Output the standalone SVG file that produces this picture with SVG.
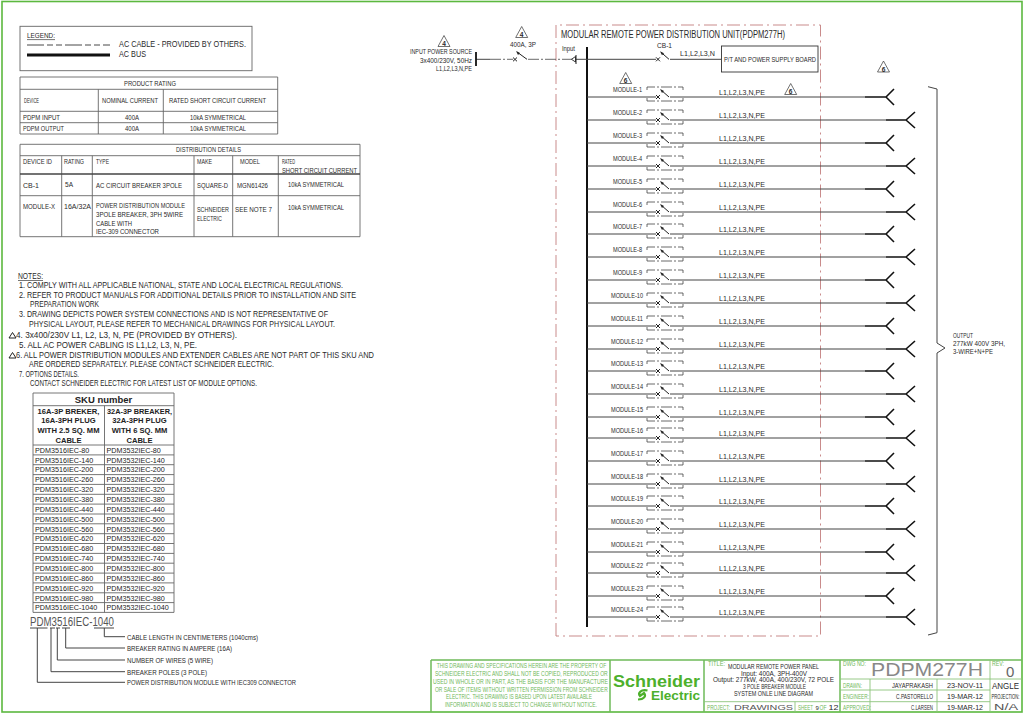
<svg xmlns="http://www.w3.org/2000/svg" width="1024" height="715" viewBox="0 0 1024 715">
<style>
text{font-family:"Liberation Sans",Arial,sans-serif;fill:#2a2a2a;font-size:7.5px}
.n{font-size:8.2px}
.m{font-size:6.6px}
.s{font-size:6.6px}
.g{fill:#6fb85a;font-size:6.6px}
.sk{font-size:7.2px;fill:#222}
.b{font-weight:bold;font-size:7.6px;fill:#222}
.ln{fill:none;stroke:#555;stroke-width:.9}
.t{fill:none;stroke:#666;stroke-width:.9}
.gl{fill:none;stroke:#8cc47c;stroke-width:.9}
.gh{fill:none;stroke:#6fbb5a;stroke-width:1.5}
.w{fill:none;stroke:#444;stroke-width:1}
.k{fill:none;stroke:#111;stroke-width:1.6}
.f{fill:none;stroke:#222;stroke-width:1}
.d{fill:none;stroke:#444;stroke-width:.8;stroke-dasharray:11 2 2 2}
.tri{fill:#fff;stroke:#333;stroke-width:.7}
</style>
<defs>
<g id="brk">
<path class="d" d="M647-7V-10H683V-7M647 1V4H683V1"/>
<path class="f" d="M656-2 660 2M660-2 656 2M661-7 669 0"/>
<path d="M660-8 664-6 662-4Z" fill="#222"/>
</g>
<path id="fo" class="k" d="M865 0H886M886 0 894-8M886 0 894 8"/>
<path id="fe" class="k" d="M886 0H906M906 0 915-8M906 0 915 8"/>
<path id="ntri" class="tri" d="M0-6 6 5H-6Z"/>
<path id="ltri" class="f" d="M0-3 3.5 2.5H-3.5Z"/>
</defs>

<rect id="frame" x="2" y="1.5" width="1020" height="710.5" fill="none" stroke="#5cb83f" stroke-width="1.6"/>

<g id="legend">
<rect class="t" x="20" y="26.3" width="232" height="44.4"/>
<text x="27" y="38" textLength="28" lengthAdjust="spacingAndGlyphs">LEGEND:</text>
<path class="t" d="M27 39.6H55"/>
<path d="M27 45H110" fill="none" stroke="#333" stroke-width=".9" stroke-dasharray="17 3 6 3 6 3"/>
<path d="M27 55H110" fill="none" stroke="#111" stroke-width="2.8"/>
<text class="n" x="119" y="47" textLength="127" lengthAdjust="spacingAndGlyphs">AC CABLE - PROVIDED BY OTHERS.</text>
<text class="n" x="119" y="56.5" textLength="27" lengthAdjust="spacingAndGlyphs">AC BUS</text>
</g>

<g id="product-rating">
<path class="t" d="M20 77H277.7V134H20ZM20 89.3H277.7M20 111.3H277.7M20 122.7H277.7M98.3 89.3V134M163.3 89.3V134"/>
<text class="s" x="124" y="85.5" textLength="52" lengthAdjust="spacingAndGlyphs">PRODUCT RATING</text>
<text class="s" x="24" y="102.5" textLength="15" lengthAdjust="spacingAndGlyphs">DEVICE</text>
<text class="s" x="102" y="102.5" textLength="56" lengthAdjust="spacingAndGlyphs">NOMINAL CURRENT</text>
<text class="s" x="169" y="102.5" textLength="97" lengthAdjust="spacingAndGlyphs">RATED SHORT CIRCUIT CURRENT</text>
<text class="s" x="23" y="119.5" textLength="37" lengthAdjust="spacingAndGlyphs">PDPM INPUT</text>
<text class="s" x="125" y="119.5" textLength="14" lengthAdjust="spacingAndGlyphs">400A</text>
<text class="s" x="190" y="119.5" textLength="56" lengthAdjust="spacingAndGlyphs">10kA SYMMETRICAL</text>
<text class="s" x="23" y="131" textLength="41" lengthAdjust="spacingAndGlyphs">PDPM OUTPUT</text>
<text class="s" x="125" y="130.5" textLength="14" lengthAdjust="spacingAndGlyphs">400A</text>
<text class="s" x="190" y="130.5" textLength="56" lengthAdjust="spacingAndGlyphs">10kA SYMMETRICAL</text>
</g>

<g id="distribution-details">
<path class="t" d="M20 144.3H360V236.7H20ZM20 155.7H360M20 195.7H360M61.7 155.7V236.7M92.3 155.7V236.7M194 155.7V236.7M232.7 155.7V236.7M278.3 155.7V236.7"/>
<path d="M20 174H360" fill="none" stroke="#444" stroke-width="1.5"/>
<text class="s" x="176" y="152" textLength="65" lengthAdjust="spacingAndGlyphs">DISTRIBUTION DETAILS</text>
<text class="s" x="23" y="163.5" textLength="29" lengthAdjust="spacingAndGlyphs">DEVICE ID</text>
<text class="s" x="64" y="163.5" textLength="20" lengthAdjust="spacingAndGlyphs">RATING</text>
<text class="s" x="96" y="163.5" textLength="13" lengthAdjust="spacingAndGlyphs">TYPE</text>
<text class="s" x="197" y="163.5" textLength="15" lengthAdjust="spacingAndGlyphs">MAKE</text>
<text class="s" x="240" y="163.5" textLength="20" lengthAdjust="spacingAndGlyphs">MODEL</text>
<text class="s" x="282" y="163.5" textLength="13" lengthAdjust="spacingAndGlyphs">RATED</text>
<text class="s" x="282" y="172.5" textLength="75" lengthAdjust="spacingAndGlyphs">SHORT CIRCUIT CURRENT</text>
<text class="s" x="23" y="187.5" textLength="16" lengthAdjust="spacingAndGlyphs">CB-1</text>
<text class="s" x="65" y="187" textLength="8" lengthAdjust="spacingAndGlyphs">5A</text>
<text class="s" x="96" y="187.5" textLength="86" lengthAdjust="spacingAndGlyphs">AC CIRCUIT BREAKER 3POLE</text>
<text class="s" x="197" y="187.5" textLength="31" lengthAdjust="spacingAndGlyphs">SQUARE-D</text>
<text class="s" x="237" y="187.5" textLength="31" lengthAdjust="spacingAndGlyphs">MGN61426</text>
<text class="s" x="288" y="187" textLength="56" lengthAdjust="spacingAndGlyphs">10kA SYMMETRICAL</text>
<text class="s" x="23" y="208.5" textLength="32" lengthAdjust="spacingAndGlyphs">MODULE-X</text>
<text class="s" x="64" y="208.5" textLength="27" lengthAdjust="spacingAndGlyphs">16A/32A</text>
<text class="s" x="96" y="207.5" textLength="89" lengthAdjust="spacingAndGlyphs">POWER DISTRIBUTION MODULE</text>
<text class="s" x="96" y="217" textLength="87" lengthAdjust="spacingAndGlyphs">3POLE BREAKER, 3PH 5WIRE</text>
<text class="s" x="96" y="226" textLength="36" lengthAdjust="spacingAndGlyphs">CABLE WITH</text>
<text class="s" x="96" y="233.5" textLength="63" lengthAdjust="spacingAndGlyphs">IEC-309 CONNECTOR</text>
<text class="s" x="197" y="211.5" textLength="32" lengthAdjust="spacingAndGlyphs">SCHNEIDER</text>
<text class="s" x="197" y="220.5" textLength="25" lengthAdjust="spacingAndGlyphs">ELECTRIC</text>
<text class="s" x="235" y="211.5" textLength="37" lengthAdjust="spacingAndGlyphs">SEE NOTE 7</text>
<text class="s" x="288" y="209.5" textLength="56" lengthAdjust="spacingAndGlyphs">10kA SYMMETRICAL</text>
</g>

<g id="notes">
<text class="n" x="18" y="279" textLength="25" lengthAdjust="spacingAndGlyphs">NOTES:</text>
<path class="t" d="M18 280.5H43"/>
<text class="n" x="19" y="288" textLength="324" lengthAdjust="spacingAndGlyphs">1. COMPLY WITH ALL APPLICABLE NATIONAL, STATE AND LOCAL ELECTRICAL REGULATIONS.</text>
<text class="n" x="19" y="298" textLength="337" lengthAdjust="spacingAndGlyphs">2. REFER TO PRODUCT MANUALS FOR ADDITIONAL DETAILS PRIOR TO INSTALLATION AND SITE</text>
<text class="n" x="30" y="307" textLength="69" lengthAdjust="spacingAndGlyphs">PREPARATION WORK</text>
<text class="n" x="19" y="317" textLength="309" lengthAdjust="spacingAndGlyphs">3. DRAWING DEPICTS POWER SYSTEM CONNECTIONS AND IS NOT REPRESENTATIVE OF</text>
<text class="n" x="29" y="327" textLength="306" lengthAdjust="spacingAndGlyphs">PHYSICAL LAYOUT, PLEASE REFER TO MECHANICAL DRAWINGS FOR PHYSICAL LAYOUT.</text>
<use href="#ltri" x="12.5" y="335.5"/>
<text class="n" x="16" y="338" textLength="221" lengthAdjust="spacingAndGlyphs">4. 3x400/230V L1, L2, L3, N, PE (PROVIDED BY OTHERS).</text>
<text class="n" x="19" y="347.5" textLength="178" lengthAdjust="spacingAndGlyphs">5. ALL AC POWER CABLING IS L1,L2, L3, N, PE.</text>
<use href="#ltri" x="12.5" y="355.5"/>
<text class="n" x="16" y="357.5" textLength="358" lengthAdjust="spacingAndGlyphs">6. ALL POWER DISTRIBUTION MODULES AND EXTENDER CABLES ARE NOT PART OF THIS SKU AND</text>
<text class="n" x="29" y="367" textLength="245" lengthAdjust="spacingAndGlyphs">ARE ORDERED SEPARATELY. PLEASE CONTACT SCHNEIDER ELECTRIC.</text>
<text class="n" x="19" y="376.5" textLength="60" lengthAdjust="spacingAndGlyphs">7. OPTIONS DETAILS.</text>
<text class="n" x="30" y="386" textLength="227" lengthAdjust="spacingAndGlyphs">CONTACT SCHNEIDER ELECTRIC FOR LATEST LIST OF MODULE OPTIONS.</text>
</g>

<g id="sku-table">
<path class="t" d="M33 393H174V612.4H33ZM33 405.7H174M33 445H174M33 454.9H174M33 464.7H174M33 474.6H174M33 484.4H174M33 494.3H174M33 504.1H174M33 514H174M33 523.8H174M33 533.7H174M33 543.5H174M33 553.4H174M33 563.2H174M33 573.1H174M33 582.9H174M33 592.8H174M33 602.6H174M104.5 405.7V612.4"/>
<text x="103.5" y="403" text-anchor="middle" style="font-weight:bold;font-size:9.5px;fill:#222">SKU number</text>
<text class="b" x="68.5" y="413.5" text-anchor="middle">16A-3P BREKER,</text>
<text class="b" x="68.5" y="423" text-anchor="middle">16A-3PH PLUG</text>
<text class="b" x="68.5" y="433" text-anchor="middle">WITH 2.5 SQ. MM</text>
<text class="b" x="68.5" y="443" text-anchor="middle">CABLE</text>
<text class="b" x="139.5" y="413.5" text-anchor="middle" textLength="65" lengthAdjust="spacingAndGlyphs">32A-3P BREAKER,</text>
<text class="b" x="139.5" y="423" text-anchor="middle">32A-3PH PLUG</text>
<text class="b" x="139.5" y="433" text-anchor="middle">WITH 6 SQ. MM</text>
<text class="b" x="139.5" y="443" text-anchor="middle">CABLE</text>
<text class="sk" x="35" y="452.7">PDM3516IEC-80</text><text class="sk" x="106.5" y="452.7">PDM3532IEC-80</text>
<text class="sk" x="35" y="462.6">PDM3516IEC-140</text><text class="sk" x="106.5" y="462.6">PDM3532IEC-140</text>
<text class="sk" x="35" y="472.4">PDM3516IEC-200</text><text class="sk" x="106.5" y="472.4">PDM3532IEC-200</text>
<text class="sk" x="35" y="482.3">PDM3516IEC-260</text><text class="sk" x="106.5" y="482.3">PDM3532IEC-260</text>
<text class="sk" x="35" y="492.1">PDM3516IEC-320</text><text class="sk" x="106.5" y="492.1">PDM3532IEC-320</text>
<text class="sk" x="35" y="502">PDM3516IEC-380</text><text class="sk" x="106.5" y="502">PDM3532IEC-380</text>
<text class="sk" x="35" y="511.8">PDM3516IEC-440</text><text class="sk" x="106.5" y="511.8">PDM3532IEC-440</text>
<text class="sk" x="35" y="521.7">PDM3516IEC-500</text><text class="sk" x="106.5" y="521.7">PDM3532IEC-500</text>
<text class="sk" x="35" y="531.5">PDM3516IEC-560</text><text class="sk" x="106.5" y="531.5">PDM3532IEC-560</text>
<text class="sk" x="35" y="541.4">PDM3516IEC-620</text><text class="sk" x="106.5" y="541.4">PDM3532IEC-620</text>
<text class="sk" x="35" y="551.2">PDM3516IEC-680</text><text class="sk" x="106.5" y="551.2">PDM3532IEC-680</text>
<text class="sk" x="35" y="561.1">PDM3516IEC-740</text><text class="sk" x="106.5" y="561.1">PDM3532IEC-740</text>
<text class="sk" x="35" y="570.9">PDM3516IEC-800</text><text class="sk" x="106.5" y="570.9">PDM3532IEC-800</text>
<text class="sk" x="35" y="580.8">PDM3516IEC-860</text><text class="sk" x="106.5" y="580.8">PDM3532IEC-860</text>
<text class="sk" x="35" y="590.6">PDM3516IEC-920</text><text class="sk" x="106.5" y="590.6">PDM3532IEC-920</text>
<text class="sk" x="35" y="600.5">PDM3516IEC-980</text><text class="sk" x="106.5" y="600.5">PDM3532IEC-980</text>
<text class="sk" x="35" y="610.3">PDM3516IEC-1040</text><text class="sk" x="106.5" y="610.3">PDM3532IEC-1040</text>
</g>

<g id="sku-key">
<text x="30" y="625.5" textLength="84" lengthAdjust="spacingAndGlyphs" style="font-size:12.5px;fill:#555">PDM3516IEC-1040</text>
<path fill="none" stroke="#444" stroke-width="1" d="M30 628H47.5M50 628H55M56 628H60M62 628H70M94 628H114M104.3 628V636.7H125M65.7 628V648H125M57.3 628V660H125M51 628V671.7H125M37.3 628V682.3H125"/>
<text class="s" x="127" y="639.5" textLength="131" lengthAdjust="spacingAndGlyphs">CABLE LENGTH IN CENTIMETERS (1040cms)</text>
<text class="s" x="127" y="651" textLength="105" lengthAdjust="spacingAndGlyphs">BREAKER RATING IN AMPERE (16A)</text>
<text class="s" x="127" y="663" textLength="86" lengthAdjust="spacingAndGlyphs">NUMBER OF WIRES (5 WIRE)</text>
<text class="s" x="127" y="674.5" textLength="80" lengthAdjust="spacingAndGlyphs">BREAKER POLES (3 POLE)</text>
<text class="s" x="127" y="685" textLength="169" lengthAdjust="spacingAndGlyphs">POWER DISTRIBUTION MODULE WITH IEC309 CONNECTOR</text>
</g>

<g id="unit-boundary">
<path d="M556 636V25H820.5V636Z" fill="none" stroke="#c98b8b" stroke-width="1" stroke-dasharray="13 4 2 4"/>
<text x="561" y="38" textLength="224" lengthAdjust="spacingAndGlyphs" style="font-size:10px">MODULAR REMOTE POWER DISTRIBUTION UNIT(PDPM277H)</text>
</g>

<g id="connectors">
<path d="M587 47V627" fill="none" stroke="#111" stroke-width="2"/>
<path class="w" d="M476 59.3H490" />
<path class="d" d="M490 59.3H513M528 59.3H572"/>
<path class="w" d="M576 59.3H656M670 59.3H721"/>
<path class="w" d="M587 97H656M670 97H865M587 120H656M670 120H886M587 143H656M670 143H865M587 166H656M670 166H886M587 189H656M670 189H865M587 212H656M670 212H886M587 234H656M670 234H865M587 257H656M670 257H886M587 280H656M670 280H865M587 303H656M670 303H886M587 326H656M670 326H865M587 349H656M670 349H886M587 371H656M670 371H865M587 394H656M670 394H886M587 417H656M670 417H865M587 438H656M670 438H886M587 461H656M670 461H865M587 484H656M670 484H886M587 506H656M670 506H865M587 529H656M670 529H886M587 552H656M670 552H865M587 573H656M670 573H886M587 596H656M670 596H865M587 617H656M670 617H886"/>
</g>

<g id="input-source">
<path d="M476 52V66" fill="none" stroke="#111" stroke-width="1.8"/>
<text class="s" x="410" y="54.3" textLength="62" lengthAdjust="spacingAndGlyphs">INPUT POWER SOURCE</text>
<text class="s" x="420" y="63" textLength="52" lengthAdjust="spacingAndGlyphs">3x400/230V, 50Hz</text>
<text class="s" x="436" y="71" textLength="36" lengthAdjust="spacingAndGlyphs">L1,L2,L3,N,PE</text>
<use href="#ntri" x="444" y="41.5"/>
<text class="s" x="444" y="46" text-anchor="middle" style="font-weight:bold">4</text>
</g>
<g id="main-breaker">
<path class="f" d="M513 57.5 517 61.3M517 57.5 513 61.3M517 52 527 59.3"/>
<path d="M516 51 520 53 518 55Z" fill="#222"/>
<text class="s" x="510" y="46.5" textLength="26" lengthAdjust="spacingAndGlyphs">400A, 3P</text>
<use href="#ntri" x="521.7" y="32.5"/>
<text class="s" x="521.7" y="37" text-anchor="middle" style="font-weight:bold">4</text>
</g>
<g id="input-terminal">
<path d="M571.5 59.3 575.5 56.5V62Z" fill="#fff" stroke="#222" stroke-width=".9"/>
<path class="f" d="M576 55V64"/>
<text class="s" x="562" y="50.5" textLength="13" lengthAdjust="spacingAndGlyphs">Input</text>
</g>
<g id="cb-1">
<g transform="translate(0,59.3)"><path class="f" d="M656-2 660 2M660-2 656 2M661-7 669 0"/><path d="M660-8 664-6 662-4Z" fill="#222"/></g>
<text class="s" x="657" y="48" textLength="15" lengthAdjust="spacingAndGlyphs">CB-1</text>
<text class="s" x="680" y="56" textLength="35" lengthAdjust="spacingAndGlyphs">L1,L2,L3,N</text>
</g>
<g id="psu-board">
<rect x="721.5" y="46" width="96.5" height="26" fill="#fff" stroke="#333" stroke-width=".9"/>
<text class="s" x="724" y="61.5" textLength="92" lengthAdjust="spacingAndGlyphs">P/T AND POWER SUPPLY BOARD</text>
</g>
<g id="note-flags">
<use href="#ntri" x="625.7" y="78.5"/>
<text class="s" x="625.7" y="83" text-anchor="middle" style="font-weight:bold">6</text>
<use href="#ntri" x="790.7" y="89.5"/>
<text class="s" x="790.7" y="94" text-anchor="middle" style="font-weight:bold">6</text>
<use href="#ntri" x="883.5" y="67"/>
<text class="s" x="883.5" y="71.5" text-anchor="middle" style="font-weight:bold">6</text>
</g>

<g id="module-1" transform="translate(0,97)"><use href="#brk"/><use href="#fo"/><text class="m" x="613" y="-5" textLength="29" lengthAdjust="spacingAndGlyphs">MODULE-1</text><text class="s" x="719" y="-2" textLength="46" lengthAdjust="spacingAndGlyphs">L1,L2,L3,N,PE</text></g>
<g id="module-2" transform="translate(0,120)"><use href="#brk"/><use href="#fe"/><text class="m" x="613" y="-5" textLength="29" lengthAdjust="spacingAndGlyphs">MODULE-2</text><text class="s" x="719" y="-2" textLength="46" lengthAdjust="spacingAndGlyphs">L1,L2,L3,N,PE</text></g>
<g id="module-3" transform="translate(0,143)"><use href="#brk"/><use href="#fo"/><text class="m" x="613" y="-5" textLength="29" lengthAdjust="spacingAndGlyphs">MODULE-3</text><text class="s" x="719" y="-2" textLength="46" lengthAdjust="spacingAndGlyphs">L1,L2,L3,N,PE</text></g>
<g id="module-4" transform="translate(0,166)"><use href="#brk"/><use href="#fe"/><text class="m" x="613" y="-5" textLength="29" lengthAdjust="spacingAndGlyphs">MODULE-4</text><text class="s" x="719" y="-2" textLength="46" lengthAdjust="spacingAndGlyphs">L1,L2,L3,N,PE</text></g>
<g id="module-5" transform="translate(0,189)"><use href="#brk"/><use href="#fo"/><text class="m" x="613" y="-5" textLength="29" lengthAdjust="spacingAndGlyphs">MODULE-5</text><text class="s" x="719" y="-2" textLength="46" lengthAdjust="spacingAndGlyphs">L1,L2,L3,N,PE</text></g>
<g id="module-6" transform="translate(0,212)"><use href="#brk"/><use href="#fe"/><text class="m" x="613" y="-5" textLength="29" lengthAdjust="spacingAndGlyphs">MODULE-6</text><text class="s" x="719" y="-2" textLength="46" lengthAdjust="spacingAndGlyphs">L1,L2,L3,N,PE</text></g>
<g id="module-7" transform="translate(0,234)"><use href="#brk"/><use href="#fo"/><text class="m" x="613" y="-5" textLength="29" lengthAdjust="spacingAndGlyphs">MODULE-7</text><text class="s" x="719" y="-2" textLength="46" lengthAdjust="spacingAndGlyphs">L1,L2,L3,N,PE</text></g>
<g id="module-8" transform="translate(0,257)"><use href="#brk"/><use href="#fe"/><text class="m" x="613" y="-5" textLength="29" lengthAdjust="spacingAndGlyphs">MODULE-8</text><text class="s" x="719" y="-2" textLength="46" lengthAdjust="spacingAndGlyphs">L1,L2,L3,N,PE</text></g>
<g id="module-9" transform="translate(0,280)"><use href="#brk"/><use href="#fo"/><text class="m" x="613" y="-5" textLength="29" lengthAdjust="spacingAndGlyphs">MODULE-9</text><text class="s" x="719" y="-2" textLength="46" lengthAdjust="spacingAndGlyphs">L1,L2,L3,N,PE</text></g>
<g id="module-10" transform="translate(0,303)"><use href="#brk"/><use href="#fe"/><text class="m" x="611" y="-5" textLength="32" lengthAdjust="spacingAndGlyphs">MODULE-10</text><text class="s" x="719" y="-2" textLength="46" lengthAdjust="spacingAndGlyphs">L1,L2,L3,N,PE</text></g>
<g id="module-11" transform="translate(0,326)"><use href="#brk"/><use href="#fo"/><text class="m" x="611" y="-5" textLength="32" lengthAdjust="spacingAndGlyphs">MODULE-11</text><text class="s" x="719" y="-2" textLength="46" lengthAdjust="spacingAndGlyphs">L1,L2,L3,N,PE</text></g>
<g id="module-12" transform="translate(0,349)"><use href="#brk"/><use href="#fe"/><text class="m" x="611" y="-5" textLength="32" lengthAdjust="spacingAndGlyphs">MODULE-12</text><text class="s" x="719" y="-2" textLength="46" lengthAdjust="spacingAndGlyphs">L1,L2,L3,N,PE</text></g>
<g id="module-13" transform="translate(0,371)"><use href="#brk"/><use href="#fo"/><text class="m" x="611" y="-5" textLength="32" lengthAdjust="spacingAndGlyphs">MODULE-13</text><text class="s" x="719" y="-2" textLength="46" lengthAdjust="spacingAndGlyphs">L1,L2,L3,N,PE</text></g>
<g id="module-14" transform="translate(0,394)"><use href="#brk"/><use href="#fe"/><text class="m" x="611" y="-5" textLength="32" lengthAdjust="spacingAndGlyphs">MODULE-14</text><text class="s" x="719" y="-2" textLength="46" lengthAdjust="spacingAndGlyphs">L1,L2,L3,N,PE</text></g>
<g id="module-15" transform="translate(0,417)"><use href="#brk"/><use href="#fo"/><text class="m" x="611" y="-5" textLength="32" lengthAdjust="spacingAndGlyphs">MODULE-15</text><text class="s" x="719" y="-2" textLength="46" lengthAdjust="spacingAndGlyphs">L1,L2,L3,N,PE</text></g>
<g id="module-16" transform="translate(0,438)"><use href="#brk"/><use href="#fe"/><text class="m" x="611" y="-5" textLength="32" lengthAdjust="spacingAndGlyphs">MODULE-16</text><text class="s" x="719" y="-2" textLength="46" lengthAdjust="spacingAndGlyphs">L1,L2,L3,N,PE</text></g>
<g id="module-17" transform="translate(0,461)"><use href="#brk"/><use href="#fo"/><text class="m" x="611" y="-5" textLength="32" lengthAdjust="spacingAndGlyphs">MODULE-17</text><text class="s" x="719" y="-2" textLength="46" lengthAdjust="spacingAndGlyphs">L1,L2,L3,N,PE</text></g>
<g id="module-18" transform="translate(0,484)"><use href="#brk"/><use href="#fe"/><text class="m" x="611" y="-5" textLength="32" lengthAdjust="spacingAndGlyphs">MODULE-18</text><text class="s" x="719" y="-2" textLength="46" lengthAdjust="spacingAndGlyphs">L1,L2,L3,N,PE</text></g>
<g id="module-19" transform="translate(0,506)"><use href="#brk"/><use href="#fo"/><text class="m" x="611" y="-5" textLength="32" lengthAdjust="spacingAndGlyphs">MODULE-19</text><text class="s" x="719" y="-2" textLength="46" lengthAdjust="spacingAndGlyphs">L1,L2,L3,N,PE</text></g>
<g id="module-20" transform="translate(0,529)"><use href="#brk"/><use href="#fe"/><text class="m" x="611" y="-5" textLength="32" lengthAdjust="spacingAndGlyphs">MODULE-20</text><text class="s" x="719" y="-2" textLength="46" lengthAdjust="spacingAndGlyphs">L1,L2,L3,N,PE</text></g>
<g id="module-21" transform="translate(0,552)"><use href="#brk"/><use href="#fo"/><text class="m" x="611" y="-5" textLength="32" lengthAdjust="spacingAndGlyphs">MODULE-21</text><text class="s" x="719" y="-2" textLength="46" lengthAdjust="spacingAndGlyphs">L1,L2,L3,N,PE</text></g>
<g id="module-22" transform="translate(0,573)"><use href="#brk"/><use href="#fe"/><text class="m" x="611" y="-5" textLength="32" lengthAdjust="spacingAndGlyphs">MODULE-22</text><text class="s" x="719" y="-2" textLength="46" lengthAdjust="spacingAndGlyphs">L1,L2,L3,N,PE</text></g>
<g id="module-23" transform="translate(0,596)"><use href="#brk"/><use href="#fo"/><text class="m" x="611" y="-5" textLength="32" lengthAdjust="spacingAndGlyphs">MODULE-23</text><text class="s" x="719" y="-2" textLength="46" lengthAdjust="spacingAndGlyphs">L1,L2,L3,N,PE</text></g>
<g id="module-24" transform="translate(0,617)"><use href="#brk"/><use href="#fe"/><text class="m" x="611" y="-5" textLength="32" lengthAdjust="spacingAndGlyphs">MODULE-24</text><text class="s" x="719" y="-2" textLength="46" lengthAdjust="spacingAndGlyphs">L1,L2,L3,N,PE</text></g>

<g id="output">
<path class="w" d="M928 86.7 937 89V343L945 348 937 353V632.7L928 635"/>
<text class="s" x="953" y="338" textLength="20" lengthAdjust="spacingAndGlyphs">OUTPUT</text>
<text class="s" x="953" y="346" textLength="52" lengthAdjust="spacingAndGlyphs">277kW 400V 3PH,</text>
<text class="s" x="953" y="353.5" textLength="40" lengthAdjust="spacingAndGlyphs">3-WIRE+N+PE</text>
</g>

<g id="title-block">
<path class="gh" d="M431 660H1022M431 660V712M610 660V712M704 660V712M840 660V712"/>
<path class="gl" d="M704 701.7H840M795 701.7V712M840 679H1022M840 690H990M840 701.7H990M870 679V712M937 679V712M990 660V712"/>
<g id="legal">
<text class="g" x="436.7" y="668" textLength="169.5" lengthAdjust="spacingAndGlyphs">THIS DRAWING AND SPECIFICATIONS HEREIN ARE THE PROPERTY OF</text>
<text class="g" x="435" y="676" textLength="172.7" lengthAdjust="spacingAndGlyphs">SCHNEIDER ELECTRIC AND SHALL NOT BE COPIED, REPRODUCED OR</text>
<text class="g" x="433" y="684" textLength="175" lengthAdjust="spacingAndGlyphs">USED IN WHOLE OR IN PART, AS THE BASIS FOR THE MANUFACTURE</text>
<text class="g" x="435" y="691.5" textLength="172.7" lengthAdjust="spacingAndGlyphs">OR SALE OF ITEMS WITHOUT WRITTEN PERMISSION FROM SCHNEIDER</text>
<text class="g" x="446" y="699" textLength="146" lengthAdjust="spacingAndGlyphs">ELECTRIC. THIS DRAWING IS BASED UPON LATEST AVAILABLE</text>
<text class="g" x="445" y="707" textLength="152" lengthAdjust="spacingAndGlyphs">INFORMATION AND IS SUBJECT TO CHANGE WITHOUT NOTICE.</text>
</g>
<g id="logo">
<text x="613" y="687" textLength="87" lengthAdjust="spacingAndGlyphs" style="font-weight:bold;font-size:16px;fill:#4db02c">Schneider</text>
<text x="651" y="699.5" textLength="49" lengthAdjust="spacingAndGlyphs" style="font-weight:bold;font-size:12px;fill:#4db02c">Electric</text>
<path d="M647.5 690.5C641 689 637.5 693 640 696L644 693C646.5 696 644 699.5 638 699.5" fill="none" stroke="#4db02c" stroke-width="2.2"/>
</g>
<text class="g" x="708" y="665.5" textLength="17" lengthAdjust="spacingAndGlyphs">TITLE:</text>
<text class="s" x="728" y="669" textLength="91" lengthAdjust="spacingAndGlyphs">MODULAR REMOTE POWER PANEL</text>
<text class="s" x="741" y="675.5" textLength="66" lengthAdjust="spacingAndGlyphs">Input: 400A, 3PH-400V</text>
<text class="s" x="713" y="682" textLength="121" lengthAdjust="spacingAndGlyphs">Output: 277kW, 400A, 400/230V, 72 POLE</text>
<text class="s" x="743" y="688.5" textLength="63" lengthAdjust="spacingAndGlyphs">3 POLE BREAKER MODULE</text>
<text class="s" x="734" y="695.5" textLength="79" lengthAdjust="spacingAndGlyphs">SYSTEM ONLE LINE DIAGRAM</text>
<text class="g" x="707" y="709.5" textLength="23" lengthAdjust="spacingAndGlyphs">PROJECT:</text>
<text x="734" y="710" textLength="59" lengthAdjust="spacingAndGlyphs" style="font-size:8px;fill:#555">DRAWINGS</text>
<text class="g" x="798" y="709.5" textLength="15" lengthAdjust="spacingAndGlyphs">SHEET</text>
<text class="s" x="815.5" y="709.5" style="font-size:6px">9</text>
<text class="g" x="819.5" y="709.5" textLength="7" lengthAdjust="spacingAndGlyphs">OF</text>
<text x="828.5" y="710" textLength="10" lengthAdjust="spacingAndGlyphs" style="font-size:8px">12</text>
<text class="g" x="843" y="665.5" textLength="23" lengthAdjust="spacingAndGlyphs">DWG NO:</text>
<text x="871" y="675.5" textLength="112" lengthAdjust="spacingAndGlyphs" style="font-size:18px;fill:#888">PDPM277H</text>
<text class="g" x="992" y="665.5" textLength="12" lengthAdjust="spacingAndGlyphs">REV:</text>
<text x="1006" y="677" style="font-size:15px;fill:#666">0</text>
<text class="g" x="843" y="687.5" textLength="19" lengthAdjust="spacingAndGlyphs">DRAWN:</text>
<text class="s" x="892" y="687.5" textLength="41" lengthAdjust="spacingAndGlyphs">JAYAPRAKASH</text>
<text class="s" x="947" y="687.5" textLength="36" lengthAdjust="spacingAndGlyphs">23-NOV-11</text>
<text class="g" x="843" y="698.5" textLength="26" lengthAdjust="spacingAndGlyphs">ENGINEER:</text>
<text class="s" x="896" y="698.5" textLength="37" lengthAdjust="spacingAndGlyphs">C.PASTORELLO</text>
<text class="s" x="947" y="698.5" textLength="36" lengthAdjust="spacingAndGlyphs">19-MAR-12</text>
<text class="g" x="843" y="710" textLength="28" lengthAdjust="spacingAndGlyphs">APPROVED:</text>
<text class="s" x="911" y="710" textLength="22" lengthAdjust="spacingAndGlyphs">C.LARSEN</text>
<text class="s" x="947" y="710" textLength="36" lengthAdjust="spacingAndGlyphs">19-MAR-12</text>
<text x="992" y="689" textLength="27" lengthAdjust="spacingAndGlyphs" style="font-size:8.5px">ANGLE</text>
<text x="991.5" y="698.5" textLength="28" lengthAdjust="spacingAndGlyphs" style="font-size:6.5px">PROJECTION:</text>
<text x="994" y="710" textLength="24" lengthAdjust="spacingAndGlyphs" style="font-size:9px;fill:#555">N/A</text>
</g>
</svg>
